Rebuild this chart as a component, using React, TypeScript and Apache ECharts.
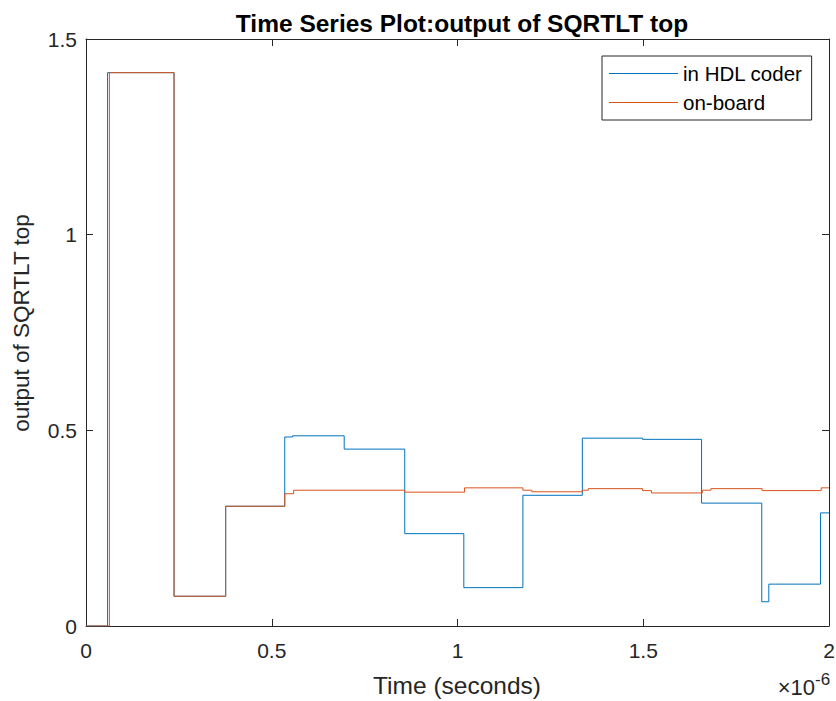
import React, { useEffect, useRef } from "react";
import * as echarts from "echarts";

// Time in units of 1e-6 seconds (axis shows ×10^-6)
const hdlTimes = [0, 0.058, 0.237, 0.376, 0.535, 0.556, 0.695, 0.858, 1.017, 1.176, 1.336, 1.498, 1.657, 1.819, 1.838, 1.977, 2.0];
const hdlValues = [0, 1.414, 0.076, 0.306, 0.483, 0.486, 0.452, 0.236, 0.098, 0.334, 0.48, 0.477, 0.314, 0.062, 0.107, 0.289, 0.289];

const boardTimes = [0, 0.063, 0.237, 0.376, 0.535, 0.559, 0.858, 1.019, 1.176, 1.2, 1.336, 1.352, 1.498, 1.522, 1.659, 1.682, 1.82, 1.979, 2.0];
const boardValues = [0, 1.414, 0.076, 0.306, 0.338, 0.347, 0.342, 0.353, 0.347, 0.343, 0.347, 0.351, 0.346, 0.34, 0.347, 0.351, 0.346, 0.353, 0.353];

const seriesNames = ["in HDL coder", "on-board"];
const xTicks = { min: 0, max: 2, interval: 0.5 };
const yTicks = { min: 0, max: 1.5, interval: 0.5 };

const FONT = "'Liberation Sans', Arial, Helvetica, sans-serif";
const AX = "#262626";

export default function App() {
  const ref = useRef<HTMLDivElement>(null);
  useEffect(() => {
    if (!ref.current) return;
    const chart = echarts.init(ref.current, undefined, { renderer: "svg" });
    const pairs = (t: number[], v: number[]) => t.map((x, i) => [x, v[i]]);
    const axisCommon = {
      axisLine: { show: true, onZero: false, lineStyle: { color: AX, width: 1 } },
      axisTick: { show: true, inside: true, length: 7, lineStyle: { color: AX } },
      splitLine: { show: false },
    };
    chart.setOption({
      animation: false,
      backgroundColor: "#ffffff",
      textStyle: { fontFamily: FONT },
      title: {
        text: "Time Series Plot:output of SQRTLT top",
        left: 457,
        top: 6,
        textAlign: "center",
        textStyle: { fontFamily: FONT, fontSize: 24.5, fontWeight: "bold", color: "#000" },
      },
      grid: {
        left: 86,
        right: 7,
        top: 39,
        bottom: 75,
        containLabel: false,
        outerBoundsMode: "none",
      },
      legend: {
        left: 602,
        top: 56,
        orient: "vertical",
        icon: "rect",
        itemWidth: 69,
        itemHeight: 1.2,
        itemGap: 8,
        padding: [7, 9, 7, 7],
        borderColor: AX,
        borderWidth: 1,
        borderRadius: 0,
        backgroundColor: "#fff",
        textStyle: { fontFamily: FONT, fontSize: 20.5, lineHeight: 21, color: "#000" },
        data: seriesNames,
      },
      xAxis: [
        {
          type: "value",
          ...xTicks,
          position: "bottom",
          ...axisCommon,
          axisLabel: { fontFamily: FONT, fontSize: 21, color: AX, margin: 14 },
        },
        {
          type: "value",
          ...xTicks,
          position: "top",
          ...axisCommon,
          axisLabel: { show: false },
        },
      ],
      yAxis: [
        {
          type: "value",
          ...yTicks,
          position: "left",
          ...axisCommon,
          axisLabel: { fontFamily: FONT, fontSize: 21, color: AX, margin: 9 },
        },
        {
          type: "value",
          ...yTicks,
          position: "right",
          ...axisCommon,
          axisLabel: { show: false },
        },
      ],
      graphic: [
        {
          type: "text",
          x: 457,
          y: 685,
          style: {
            text: "Time (seconds)",
            fontFamily: FONT,
            fontSize: 24.5,
            fill: AX,
            align: "center",
            verticalAlign: "middle",
          },
        },
        {
          type: "text",
          x: 21,
          y: 323,
          rotation: Math.PI / 2,
          style: {
            text: "output of SQRTLT top",
            fontFamily: FONT,
            fontSize: 22.5,
            fill: AX,
            align: "center",
            verticalAlign: "middle",
          },
        },
        {
          type: "text",
          x: 815,
          y: 687,
          style: {
            text: "×10",
            fontFamily: FONT,
            fontSize: 22,
            fill: AX,
            align: "right",
            verticalAlign: "middle",
          },
        },
        {
          type: "text",
          x: 815,
          y: 679,
          style: {
            text: "-6",
            fontFamily: FONT,
            fontSize: 17,
            fill: AX,
            align: "left",
            verticalAlign: "middle",
          },
        },
      ],
      series: [
        {
          name: seriesNames[0],
          type: "line",
          step: "end",
          xAxisIndex: 0,
          yAxisIndex: 0,
          showSymbol: false,
          symbol: "none",
          lineStyle: { color: "#0072BD", width: 1 },
          itemStyle: { color: "#0072BD" },
          data: pairs(hdlTimes, hdlValues),
        },
        {
          name: seriesNames[1],
          type: "line",
          step: "end",
          xAxisIndex: 0,
          yAxisIndex: 0,
          showSymbol: false,
          symbol: "none",
          lineStyle: { color: "#D95319", width: 1 },
          itemStyle: { color: "#D95319" },
          data: pairs(boardTimes, boardValues),
        },
      ],
    });
    return () => chart.dispose();
  }, []);
  return (
    <div
      ref={ref}
      style={{ position: "fixed", left: 0, top: 0, width: 836, height: 701, background: "#fff" }}
    />
  );
}
